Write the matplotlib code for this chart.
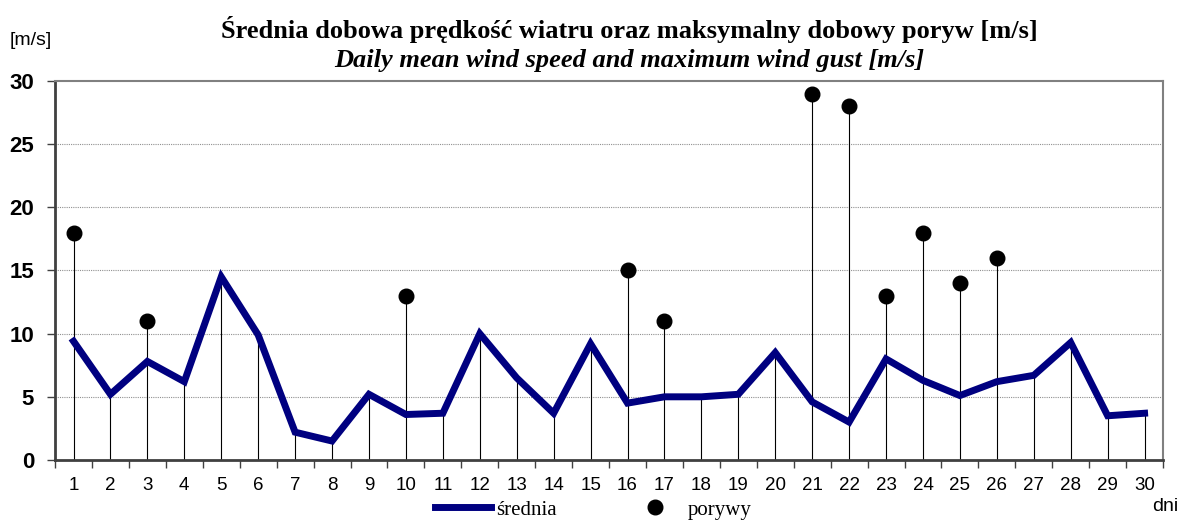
import numpy as np
import matplotlib
matplotlib.use('Agg')
from matplotlib import pyplot as plt
from matplotlib.lines import Line2D

# dane: dni miesiaca, srednia dobowa predkosc wiatru, maksymalny poryw
days = list(range(1, 31))
mean_speed = [9.4, 5.2, 7.8, 6.2, 14.5, 9.9, 2.2, 1.5, 5.2, 3.6,
              3.7, 10.0, 6.5, 3.7, 9.2, 4.5, 5.0, 5.0, 5.2, 8.5,
              4.6, 3.0, 8.0, 6.3, 5.1, 6.2, 6.7, 9.3, 3.5, 3.7]
gust_days = [1, 3, 10, 16, 17, 21, 22, 23, 24, 25, 26]
gust_vals = [18, 11, 13, 15, 11, 29, 28, 13, 18, 14, 16]
y_ticks = [0, 5, 10, 15, 20, 25, 30]

gust_map = dict(zip(gust_days, gust_vals))
stem_top = [gust_map.get(d, m) for d, m in zip(days, mean_speed)]

fig = plt.figure(figsize=(11.81, 5.23), dpi=100)
ax = fig.add_axes([0.0466, 0.1205, 0.9382, 0.7246])

# linie pionowe od zera
ax.vlines(days, 0, stem_top, colors='black', linewidth=0.8, zorder=2)
ax.plot(days, mean_speed, color='#000080', linewidth=5, solid_joinstyle='miter', zorder=3)
ax.plot(gust_days, gust_vals, 'o', color='black', markersize=10.5, zorder=4)

ax.set_xlim(0.5, 30.5)
ax.set_ylim(0, 30)
ax.set_yticks(y_ticks)
ax.set_yticklabels([str(v) for v in y_ticks], fontfamily='Liberation Sans',
                   fontweight='bold', fontsize=16)
ax.set_xticks(days)
ax.set_xticklabels([str(d) for d in days], fontfamily='Liberation Sans', fontsize=13.5)
ax.set_xticks(np.arange(0.5, 31, 1), minor=True)
ax.tick_params(axis='x', which='major', length=0, pad=12)
ax.tick_params(axis='x', which='minor', length=6, width=1, color='#404040', direction='out')
ax.tick_params(axis='y', length=6, width=1, color='#404040', direction='out', pad=9)

for v in y_ticks[1:-1]:
    ax.axhline(v, color='#909090', linewidth=0.8, linestyle=(0, (1, 1)), zorder=1)

ax.spines['left'].set_color('#404040')
ax.spines['bottom'].set_color('#404040')
ax.spines['left'].set_linewidth(2)
ax.spines['bottom'].set_linewidth(2)
ax.spines['top'].set_color('#808080')
ax.spines['right'].set_color('#808080')
ax.spines['top'].set_linewidth(1.5)
ax.spines['right'].set_linewidth(1.5)

fig.text(0.5326, 0.943, 'Średnia dobowa prędkość wiatru oraz maksymalny dobowy poryw [m/s]',
         ha='center', va='center', fontfamily='Liberation Serif', fontweight='bold', fontsize=19)
fig.text(0.5326, 0.885, 'Daily mean wind speed and maximum wind gust [m/s]',
         ha='center', va='center', fontfamily='Liberation Serif', fontweight='bold',
         fontstyle='italic', fontsize=19)
fig.text(0.008, 0.923, '[m/s]', ha='left', va='center', fontfamily='Liberation Sans', fontsize=14)
fig.text(0.9975, 0.031, 'dni', ha='right', va='center', fontfamily='Liberation Sans', fontsize=14)

handles = [Line2D([], [], color='#000080', linewidth=5),
           Line2D([], [], marker='o', color='black', linestyle='none', markersize=10.5)]
fig.legend(handles, ['średnia', 'porywy'], loc='center', bbox_to_anchor=(0.5025, 0.025),
           ncol=2, frameon=False, prop={'family': 'Liberation Serif', 'size': 15},
           handlelength=2.65, handletextpad=0.25, columnspacing=3.4)

fig.savefig('out.png', dpi=100)
